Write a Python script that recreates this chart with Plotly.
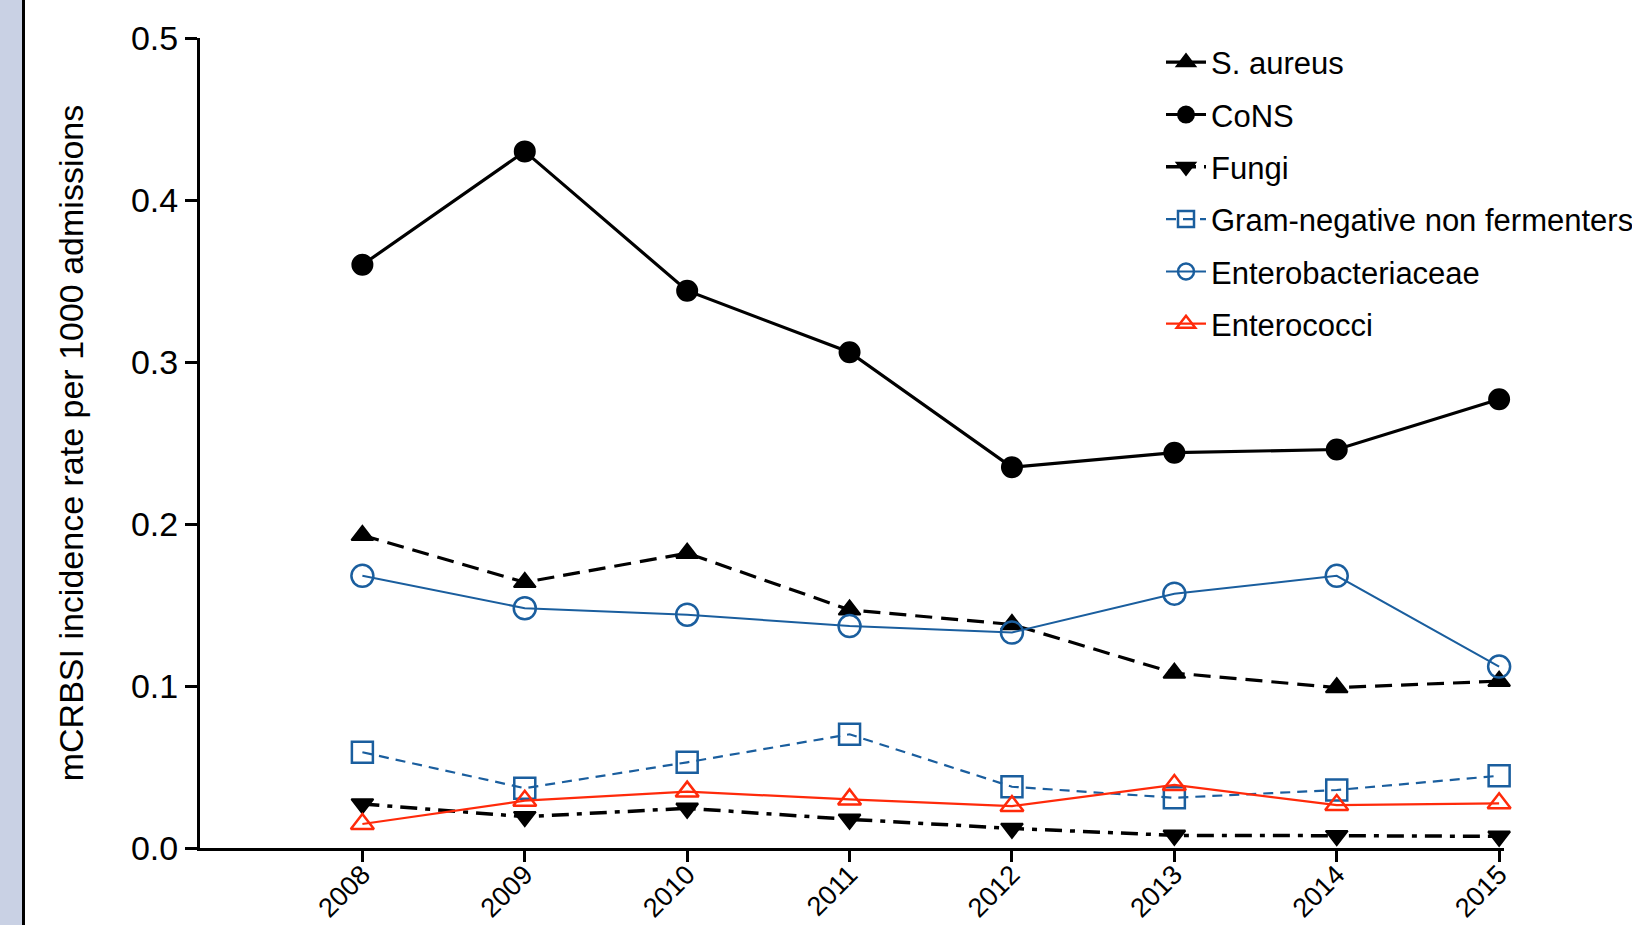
import plotly.graph_objects as go

years = [2008, 2009, 2010, 2011, 2012, 2013, 2014, 2015]
s_aureus = [0.193, 0.164, 0.182, 0.147, 0.138, 0.108, 0.099, 0.103]
cons = [0.360, 0.430, 0.344, 0.306, 0.235, 0.244, 0.246, 0.277]
fungi = [0.0272, 0.0193, 0.0245, 0.0177, 0.0121, 0.0078, 0.0076, 0.0072]
gram_neg = [0.0591, 0.0369, 0.0529, 0.0702, 0.0378, 0.0310, 0.0358, 0.0446]
entero_bact = [0.168, 0.148, 0.144, 0.137, 0.133, 0.157, 0.168, 0.112]
enterococci = [0.0148, 0.0292, 0.0348, 0.0300, 0.0259, 0.0389, 0.0265, 0.0276]

y_ticks = [0.0, 0.1, 0.2, 0.3, 0.4, 0.5]

BLUE = "#1a5e9e"
RED = "#ff2a0a"
FONT = "Liberation Sans, Arial, sans-serif"

fig = go.Figure()

def add(name, y, color, width, dash, symbol, size, lw=2):
    fig.add_trace(go.Scatter(
        x=years, y=y, name=name, mode="lines+markers", legendgroup=name,
        cliponaxis=False,
        line=dict(color=color, width=width, dash=dash),
        marker=dict(symbol=symbol, size=size, color=color,
                    line=dict(color=color, width=lw)),
    ))

add("S. aureus", s_aureus, "black", 3.2, "17px,9px", "triangle-up", 19)
add("CoNS", cons, "black", 3.2, "solid", "circle", 20)
add("Fungi", fungi, "black", 3.5, "17px,8px,5px,8px", "triangle-down", 19)
add("Gram-negative non fermenters", gram_neg, BLUE, 2.2, "10px,7px", "square-open", 21, 2.5)
add("Enterobacteriaceae", entero_bact, BLUE, 2, "solid", "circle-open", 22, 2.5)
add("Enterococci", enterococci, RED, 2.2, "solid", "triangle-up-open", 20, 2.5)

L, R, T, B = 200, 128, 38, 77
W, H = 1632, 925
pw = W - L - R
ph = H - T - B

# left decorative strip
fig.add_shape(type="rect", xref="paper", yref="paper",
              x0=-L / pw, x1=(22 - L) / pw, y0=-B / ph, y1=1 + T / ph,
              fillcolor="#c9d1e4", line=dict(width=0), layer="below")
fig.add_shape(type="rect", xref="paper", yref="paper",
              x0=(22 - L) / pw, x1=(25 - L) / pw, y0=-B / ph, y1=1 + T / ph,
              fillcolor="black", line=dict(width=0), layer="below")

fig.update_layout(
    width=W, height=H,
    margin=dict(l=L, r=R, t=T, b=B, autoexpand=False),
    paper_bgcolor="white", plot_bgcolor="white",
    font=dict(family=FONT, color="black"),
    showlegend=True,
    legend=dict(x=(1161 - L) / pw, y=1.003, xanchor="left", yanchor="top",
                font=dict(size=31, family=FONT), tracegroupgap=9,
                bgcolor="rgba(0,0,0,0)", itemwidth=40),
    xaxis=dict(range=[2007, 2015.03], tickvals=years, ticktext=[str(y) for y in years],
               tickangle=-45, showline=True, linecolor="black", linewidth=3,
               ticks="outside", ticklen=11, tickwidth=3, tickcolor="black",
               showgrid=False, zeroline=False, tickfont=dict(size=27),
               ticklabelstandoff=-14,
               automargin=False),
    yaxis=dict(range=[0, 0.5], tickvals=y_ticks, tickformat=".1f",
               showline=True, linecolor="black", linewidth=3,
               ticks="outside", ticklen=12, tickwidth=3, tickcolor="black",
               showgrid=False, zeroline=False, tickfont=dict(size=34),
               automargin=False,
               title=dict(text="mCRBSI incidence rate per 1000 admissions",
                          font=dict(size=34), standoff=38)),
)

fig.write_html("out.html")
